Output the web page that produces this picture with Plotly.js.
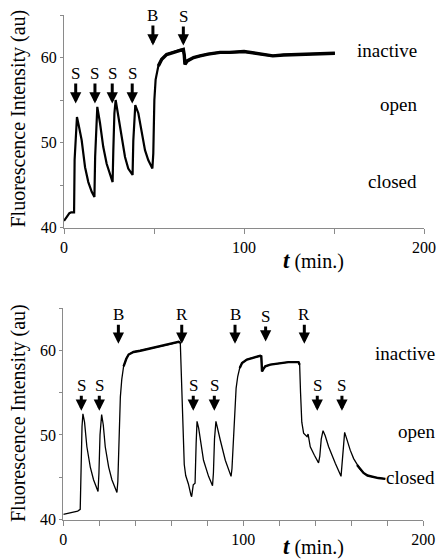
<!DOCTYPE html>
<html>
<head>
<meta charset="utf-8">
<script src="https://cdn.plot.ly/plotly-3.0.1.min.js"></script>
<style>html,body{margin:0;padding:0;background:#fff;}#chart{width:438px;height:560px;}</style>
</head>
<body>
<div id="chart"></div>
<script>
// ---- Data ----
// Top panel: time (min.) and fluorescence (au)
var topTime = [0,1,2,3,4,5.6,5.9,6.6,7.2,8.2,9.8,11.7,13.5,15.4,16.9,17.3,17.8,18.5,20,21.8,23.7,25.6,27.0,27.4,28.0,28.7,30.2,32.0,33.9,35.7,38.1,38.5,39.0,39.6,41.3,43.2,45.0,46.8,49.1,49.6,50.2,50.9,52.4,54.3,57.0,59,61,62.6,64.5,66.3,66.8,67.2,68.5,70,72,75.6,80,86.7,92,100,106,112.6,116,122,130,138,146,150.5];
var topFluor = [40.8,41.1,41.3,41.7,41.8,41.8,48.0,50.5,53.0,52.0,50.3,47.1,45.35,44.2,43.6,48.3,51.9,54.2,52.3,49.5,47.5,46.3,45.35,49.1,53.45,55.0,53.05,50.3,48.3,46.95,46.2,50.2,52.5,54.4,53.45,51.1,49.1,47.95,46.95,48.7,55.0,57.4,59.0,59.8,60.35,60.5,60.6,60.75,60.9,60.95,60.3,59.2,59.6,59.8,60.0,60.2,60.4,60.6,60.6,60.7,60.5,60.35,60.2,60.3,60.35,60.4,60.5,60.5];

// Bottom panel
var botTime = [0,2,4,6,8,9.4,9.9,10.4,10.9,11.8,13.1,15.0,16.8,18.2,19.3,19.8,20.4,21.3,22.2,23.3,25.2,27.0,28.5,29.8,30.3,30.7,31.2,31.7,32.5,33.5,35.0,36.3,39,42.8,46,50,53.9,57,60,62.5,64.1,65.0,65.6,66.3,67.2,68.0,69.5,70.9,71.3,72.2,73.2,73.8,74.3,75.2,76.1,77.9,80.7,82.9,83.4,84.0,84.8,85.8,87.2,90.0,93.2,93.7,94.1,94.6,95.2,96.0,96.9,98.0,99.3,102,105,107.5,109.4,110.0,110.4,111.2,112.2,115,120.6,125,130.7,131.3,131.8,132.5,133.5,135.4,136.0,136.5,137.2,139.5,141.8,142.5,143.3,144.3,145.5,147.4,149.3,151.1,154.3,154.8,155.5,156.3,157.5,159.4,161.3,163.2,165.0,166.8,169,172.4,175,178.9];
var botFluor = [40.6,40.7,40.8,40.9,41.0,41.2,46.5,51.0,52.5,51.5,48.6,46.2,44.7,43.9,43.3,45.5,50.0,52.4,51.2,48.6,46.2,44.7,43.8,43.2,44.5,47.8,51.5,54.5,56.6,58.1,59.0,59.5,59.8,59.95,60.1,60.25,60.45,60.6,60.75,60.9,61.0,60.9,57.0,52.0,46.5,45.2,44.2,42.9,42.7,44.1,44.3,49.0,51.6,50.8,49.4,47.0,45.1,44.0,45.5,49.5,51.6,50.8,49.4,47.0,45.1,46.0,47.8,51.0,53.75,55.5,56.9,57.9,58.5,58.9,59.1,59.25,59.35,59.3,57.5,57.8,58.1,58.3,58.5,58.6,58.6,58.3,55.0,51.5,50.2,49.8,50.1,49.3,48.6,47.6,46.7,47.5,49.5,50.5,49.9,48.6,47.5,46.65,45.1,46.5,49.0,50.3,49.5,48.2,47.2,46.45,45.9,45.5,45.2,45.0,44.9,44.8];

// Additions (event markers): time and label
var topEventTime = [6.5,17.2,26.8,37.9,49.4,66.3];
var topEventLabel = ['S','S','S','S','B','S'];
var botEventTime = [10.0,20.0,30.6,65.8,72.2,83.9,95.4,112.4,133.9,141.1,154.8];
var botEventLabel = ['S','S','B','R','S','S','B','S','R','S','S'];

// Tick values / labels
var topXTicks = [0,50,100,150,200];
var topXTickText = ['0','','100','','200'];
var botXTicks = [0,20,40,60,80,100,120,140,160,180,200];
var botXTickText = ['0','','','','','100','','','','','200'];
var yTicks = [40,45,50,55,60,65];
var yTickText = ['40','','50','','60',''];

// State labels
var stateLabels = ['inactive','open','closed'];

// ---- Drawing ----
var FONT = "'Liberation Serif', 'Times New Roman', serif";
var AX = '#8a8a8a';

function windowed(t, f, windows) {
  var xs = [], ys = [];
  windows.forEach(function (w) {
    for (var i = 0; i < t.length; i++) {
      if (t[i] >= w[0] && t[i] <= w[1]) { xs.push(t[i]); ys.push(f[i]); }
    }
    xs.push(null); ys.push(null);
  });
  return {x: xs, y: ys};
}

var topPlat = windowed(topTime, topFluor, [[52.4, 151]]);
var botPlat = windowed(botTime, botFluor, [[33.5, 65.0], [98.0, 131.3], [163, 179]]);

var traces = [
  {x: topTime, y: topFluor, xaxis: 'x', yaxis: 'y', mode: 'lines', line: {color: '#000', width: 2.2}, hoverinfo: 'skip'},
  {x: topPlat.x, y: topPlat.y, xaxis: 'x', yaxis: 'y', mode: 'lines', line: {color: '#000', width: 3.4}, hoverinfo: 'skip', connectgaps: false},
  {x: botTime, y: botFluor, xaxis: 'x2', yaxis: 'y2', mode: 'lines', line: {color: '#000', width: 1.3}, hoverinfo: 'skip'},
  {x: botPlat.x, y: botPlat.y, xaxis: 'x2', yaxis: 'y2', mode: 'lines', line: {color: '#000', width: 2.4}, hoverinfo: 'skip', connectgaps: false}
];

function baseAxis(extra) {
  var a = {
    showline: true, linecolor: AX, linewidth: 1,
    ticks: 'outside', ticklen: 5, tickcolor: AX, tickwidth: 1,
    showgrid: false, zeroline: false, fixedrange: true,
    tickfont: {family: FONT, size: 16, color: '#000'}
  };
  for (var k in extra) a[k] = extra[k];
  return a;
}

var W = 438, H = 560;
var topXDom = [64 / W, 424 / W];
var topYDom = [1 - 227.6 / H, 1 - 15 / H];
var botXDom = [63.3 / W, 423.3 / W];
var botYDom = [1 - 519.5 / H, 1 - 308 / H];

var layout = {
  width: W, height: H,
  margin: {l: 0, r: 0, t: 0, b: 0, pad: 0},
  paper_bgcolor: '#fff', plot_bgcolor: 'rgba(0,0,0,0)',
  showlegend: false,
  xaxis: baseAxis({domain: topXDom, range: [0, 200], anchor: 'y', tickmode: 'array', tickvals: topXTicks, ticktext: topXTickText}),
  yaxis: baseAxis({domain: topYDom, range: [40, 65], anchor: 'x', tickmode: 'array', tickvals: yTicks, ticktext: yTickText, ticklen: 3}),
  xaxis2: baseAxis({domain: botXDom, range: [0, 200], anchor: 'y2', tickmode: 'array', tickvals: botXTicks, ticktext: botXTickText}),
  yaxis2: baseAxis({domain: botYDom, range: [40, 65], anchor: 'x2', tickmode: 'array', tickvals: yTicks, ticktext: yTickText, ticklen: 3}),
  // inner halves of the crossing tick marks
  xaxis3: baseAxis({overlaying: 'x', anchor: 'y', range: [0, 200], ticks: 'inside', showline: false, showticklabels: false, tickmode: 'array', tickvals: topXTicks}),
  yaxis3: baseAxis({overlaying: 'y', anchor: 'x', range: [40, 65], ticks: 'inside', showline: false, showticklabels: false, tickmode: 'array', tickvals: yTicks}),
  xaxis4: baseAxis({overlaying: 'x2', anchor: 'y2', range: [0, 200], ticks: 'inside', showline: false, showticklabels: false, tickmode: 'array', tickvals: botXTicks}),
  yaxis4: baseAxis({overlaying: 'y2', anchor: 'x2', range: [40, 65], ticks: 'inside', showline: false, showticklabels: false, tickmode: 'array', tickvals: yTicks}),
  annotations: []
};

var ann = layout.annotations;

// Event arrows with labels (tip level in data units, label offset in px)
var topTip = [54.6, 54.6, 54.6, 54.6, 61.4, 61.4];
var topOff = [-30, -30, -30, -30, -30, -29];
topEventTime.forEach(function (t, i) {
  ann.push({x: t, y: topTip[i], xref: 'x', yref: 'y', text: topEventLabel[i],
    showarrow: true, ax: 0, ay: topOff[i], arrowhead: 2, arrowsize: 0.75, arrowwidth: 3, arrowcolor: '#000',
    standoff: 0, startstandoff: 0, borderpad: 0,
    font: {family: FONT, size: 17, color: '#000'}});
});
var botTip = [52.85, 52.85, 60.77, 60.77, 52.85, 52.85, 60.77, 61.04, 60.77, 52.85, 52.85];
var botOff = [-25, -25, -29, -29, -25, -25, -29, -25, -29, -25, -25];
botEventTime.forEach(function (t, i) {
  ann.push({x: t, y: botTip[i], xref: 'x2', yref: 'y2', text: botEventLabel[i],
    showarrow: true, ax: 0, ay: botOff[i], arrowhead: 2, arrowsize: 0.75, arrowwidth: 3, arrowcolor: '#000',
    standoff: 0, startstandoff: 0, borderpad: 0,
    font: {family: FONT, size: 17, color: '#000'}});
});

// State labels on the right
var topStateY = [50.7, 104.3, 181.7];
var botStateY = [353.3, 431.7, 477.3];
stateLabels.forEach(function (s, i) {
  ann.push({x: 419 / W, y: 1 - topStateY[i] / H, xref: 'paper', yref: 'paper', text: s, showarrow: false,
    xanchor: 'right', yanchor: 'middle', font: {family: FONT, size: 19, color: '#000'}});
  ann.push({x: 437 / W, y: 1 - botStateY[i] / H, xref: 'paper', yref: 'paper', text: s, showarrow: false,
    xanchor: 'right', yanchor: 'middle', font: {family: FONT, size: 19, color: '#000'}});
});

// Axis titles
[118.5, 413].forEach(function (py) {
  ann.push({x: 18 / W, y: 1 - py / H, xref: 'paper', yref: 'paper', text: 'Fluorescence Intensity (au)',
    textangle: -90, showarrow: false, xanchor: 'center', yanchor: 'middle',
    font: {family: FONT, size: 20, color: '#000'}});
});
[260, 546].forEach(function (py) {
  ann.push({x: 313 / W, y: 1 - py / H, xref: 'paper', yref: 'paper',
    text: '<span style="font-size:23px"><b><i>t</i></b></span> (min.)',
    showarrow: false, xanchor: 'center', yanchor: 'middle', borderpad: 0,
    font: {family: FONT, size: 20, color: '#000'}});
});

Plotly.newPlot('chart', traces, layout, {staticPlot: true, displayModeBar: false});
</script>
</body>
</html>
